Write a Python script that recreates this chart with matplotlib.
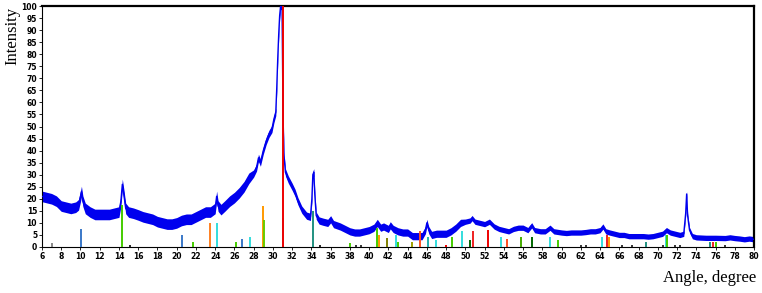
import numpy as np
import matplotlib
matplotlib.use("Agg")
from matplotlib import pyplot as plt

angle = [6.0, 6.5, 7.0, 7.5, 8.0, 8.5, 9.0, 9.5, 9.8, 10.0, 10.1, 10.25, 10.5,
         11.0, 11.5, 12.0, 12.5, 13.0, 13.5, 14.0, 14.2, 14.35, 14.5, 14.7,
         15.0, 15.5, 16.0, 16.5, 17.0, 17.5, 18.0, 18.5, 19.0, 19.5, 20.0,
         20.5, 21.0, 21.5, 22.0, 22.5, 23.0, 23.5, 24.0, 24.15, 24.3, 24.6,
         25.0, 25.5, 26.0, 26.5, 27.0, 27.5, 28.0, 28.3, 28.5, 28.7, 29.0,
         29.3, 29.6, 29.9, 30.1, 30.3, 30.4, 30.5, 30.6, 30.7, 30.8, 30.95,
         31.05, 31.15, 31.3, 31.6, 32.0, 32.3, 32.6, 33.0, 33.5, 33.9, 34.05,
         34.15, 34.25, 34.35, 34.5, 34.8, 35.2, 35.7, 36.0, 36.3, 37.0, 37.5,
         38.0, 38.5, 39.0, 39.5, 40.0, 40.5, 40.85, 41.2, 41.5, 42.0, 42.2,
         42.5, 43.0, 43.5, 44.0, 44.5, 45.0, 45.5, 45.85, 46.0, 46.2, 46.5,
         47.0, 47.5, 48.0, 48.5, 49.0, 49.5, 50.0, 50.5, 50.7, 51.0, 51.5,
         52.0, 52.5, 53.0, 53.5, 54.0, 54.5, 55.0, 55.5, 56.0, 56.5, 56.9,
         57.2, 57.8, 58.3, 58.8, 59.2, 60.0, 60.5, 61.0, 61.5, 62.0, 62.5,
         63.0, 63.5, 64.0, 64.3, 64.6, 65.0, 65.5, 66.0, 66.5, 67.0, 67.5,
         68.0, 68.5, 69.0, 69.5, 70.0, 70.5, 70.9, 71.3, 71.8, 72.3, 72.7,
         72.9, 73.0, 73.1, 73.3, 73.6, 74.0, 75.0, 76.0, 77.0, 77.5, 78.0,
         78.5, 79.0, 79.5, 80.0]
intensity = [21, 20.5, 20, 19, 17, 16.5, 16, 16.5, 17.5, 21, 23, 19, 16,
             14.5, 13.5, 13.5, 13.5, 13.5, 14, 14.5, 19, 26, 22, 16,
             14.5, 14, 13.3, 12.5, 12, 11.5, 10.5, 10, 9.5, 9.5, 10,
             11, 11.5, 11.5, 12.5, 13.5, 14.5, 14.5, 16, 21, 17, 15.5,
             17, 19, 20.5, 22.5, 25, 28.5, 30.5, 33, 37, 35, 40,
             44, 47, 49, 53, 56, 66, 78, 88, 96, 100, 100,
             55, 38, 31, 28, 25, 22.5, 19, 15.5, 13, 12.5, 20,
             30, 31, 22, 13, 11, 10.5, 10, 11.5, 9.5, 8.5, 7.5,
             6.5, 6, 6, 6.5, 7, 8, 10, 8, 8.5, 7.5, 9,
             7.5, 6.5, 6, 6, 4.5, 4.5, 4.5, 7, 10, 7, 5,
             5.5, 5.5, 5.5, 6.5, 8, 10, 10.5, 11, 12, 10.5, 10,
             9.5, 10.5, 8.5, 7.5, 7, 6.5, 7.5, 8, 8, 7, 9,
             7, 6.5, 6.5, 8, 6.5, 6, 5.8, 6, 6, 6, 6.2,
             6.5, 6.5, 7, 8.5, 6.5, 6, 5.5, 5, 5, 4.5, 4.5,
             4.5, 4.5, 4.3, 4.5, 5, 5.5, 7, 6, 5.5, 5, 5.5,
             14, 22, 13, 7, 4.5, 4, 3.8, 3.8, 3.7, 4, 3.7,
             3.5, 3.2, 3.5, 3.2]

# reference card lines
stick_pos = [7.0, 10.1, 14.35, 15.1, 20.5, 21.7, 23.5, 24.2, 26.2, 26.8, 27.6,
             29.0, 29.05, 31.0, 31.05, 34.2, 34.9, 38.0, 38.6, 39.2, 40.8, 41.0,
             41.9, 42.8, 43.0, 44.5, 45.3, 46.1, 47.0, 48.0, 48.6, 49.7, 50.5,
             50.8, 52.4, 53.7, 54.3, 55.8, 56.9, 58.8, 59.6, 62.0, 62.5, 64.2,
             64.7, 64.9, 66.3, 67.3, 68.8, 70.5, 70.9, 71.0, 71.8, 72.3, 75.4,
             75.7, 76.0, 77.0]
stick_h = [1.5, 7.5, 17.5, 1, 5, 2, 10, 10, 2, 3.5, 4,
           17, 11, 12, 100, 15, 1, 1.5, 1, 1, 8, 5,
           3.7, 5, 2, 2, 6.5, 4, 3, 1, 4, 6.5, 3,
           6.5, 7, 4, 3.5, 4, 4, 4, 3, 1, 1, 4,
           5, 4, 1, 1, 2, 1, 5, 5, 1, 1, 2,
           2, 2, 1]
stick_col = ['#888888', '#3a78c8', '#44cc00', '#222222', '#3a78c8', '#44cc00',
             '#ff8020', '#33dddd', '#44cc00', '#3a78c8', '#33dddd',
             '#ff9900', '#66cc00', '#33cccc', '#ee0000', '#209080', '#222222',
             '#44cc00', '#333333', '#333333', '#44cc00', '#ff9900',
             '#808000', '#33dddd', '#44cc00', '#a0a000', '#ff5020', '#20b0b0',
             '#33dddd', '#ee0000', '#44cc00', '#33dddd', '#006600',
             '#ee2020', '#ee0000', '#33dddd', '#ff5020', '#44aa00', '#006600',
             '#33dddd', '#44cc00', '#333333', '#333333', '#33dddd',
             '#ee2020', '#ff9900', '#333333', '#333333', '#209080', '#333333',
             '#33dddd', '#44cc00', '#333333', '#333333', '#209080',
             '#ee2020', '#44cc00', '#333333']

x = np.array(angle)
y = np.array(intensity)
# half width of the noise band seen around the trace
noise = np.where(x < 28, 2.2, np.where(x < 50, 1.5, 1.1))

fig = plt.figure(figsize=(7.62, 2.93), dpi=100)
ax = fig.add_axes([0.0551, 0.157, 0.9344, 0.8225])

ax.fill_between(x, y - noise, y + noise, color='#0000ee', lw=0, zorder=2)
ax.plot(x, y, color='#0000ee', lw=1.0, zorder=3)
ax.vlines(stick_pos, 0, stick_h, colors=stick_col, lw=1.4, zorder=4)

ax.set_xlim(6, 80)
ax.set_ylim(0, 100)
ax.set_xticks(np.arange(6, 81, 2))
ax.set_yticks(np.arange(0, 101, 5))
ax.tick_params(labelsize=5.5, length=2, width=0.6, pad=1.5, direction='out')
for lab in ax.get_xticklabels() + ax.get_yticklabels():
    lab.set_fontweight('bold')
for s in ax.spines.values():
    s.set_color('black')
ax.spines['top'].set_linewidth(1.6)
ax.spines['right'].set_linewidth(1.6)
ax.spines['left'].set_linewidth(0.8)
ax.spines['bottom'].set_linewidth(0.8)

fig.text(0.016, 0.877, 'Intensity', rotation=90, ha='center', va='center',
         family='Liberation Serif', fontsize=12)
fig.text(0.993, 0.05, 'Angle, degree', ha='right', va='center',
         family='Liberation Serif', fontsize=12)

fig.savefig('out.png', dpi=100)
